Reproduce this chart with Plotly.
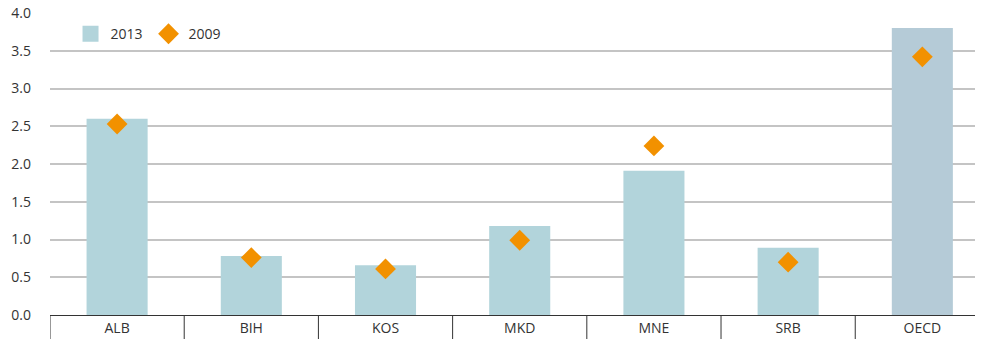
"""Bar + marker chart: 2013 vs 2009"""

import plotly.graph_objects as go

categories = ["ALB", "BIH", "KOS", "MKD", "MNE", "SRB", "OECD"]
values_2013 = [2.60, 0.78, 0.66, 1.18, 1.91, 0.89, 3.80]
values_2009 = [2.53, 0.76, 0.61, 0.99, 2.24, 0.70, 3.42]
y_ticks = [0.0, 0.5, 1.0, 1.5, 2.0, 2.5, 3.0, 3.5, 4.0]

BAR = "#b2d4db"
BAR_OECD = "#b5cbd7"
ORANGE = "#f29100"
bar_colors = [BAR] * (len(categories) - 1) + [BAR_OECD]

fig = go.Figure()
fig.add_trace(go.Bar(
    x=categories,
    y=values_2013,
    name="2013",
    marker=dict(color=bar_colors, line=dict(width=0)),
    width=0.455,
    showlegend=False,
))
# legend-only entry so the swatch is a big square like the reference
fig.add_trace(go.Scatter(
    x=[None],
    y=[None],
    mode="markers",
    name="2013",
    marker=dict(symbol="square", size=16, color=BAR),
))
fig.add_trace(go.Scatter(
    x=categories,
    y=values_2009,
    mode="markers",
    name="2009",
    marker=dict(symbol="diamond", size=16, color=ORANGE, line=dict(width=0)),
))

# vertical dividers between categories below the axis
for i in range(len(categories)):
    fig.add_shape(
        type="line", xref="x", yref="paper",
        x0=i - 0.5, x1=i - 0.5, y0=0, y1=-0.085,
        line=dict(color="#333333", width=1),
    )

# the page body has an 8px margin, so the figure is sized to fit inside it
fig.update_layout(
    width=975,
    height=331,
    margin=dict(l=42, r=0, t=5, b=24),
    paper_bgcolor="white",
    plot_bgcolor="white",
    font=dict(family="Open Sans, Noto Sans, sans-serif", size=14, color="#333333"),
    showlegend=True,
    legend=dict(
        orientation="h", x=0.022, y=0.93, xanchor="left", yanchor="middle",
        bgcolor="rgba(0,0,0,0)", font=dict(size=14), itemsizing="trace",
        entrywidth=33, entrywidthmode="pixels",
    ),
    bargap=0.5,
)
fig.update_xaxes(
    type="category",
    range=[-0.5, 6.452],
    showgrid=False,
    showline=True,
    linecolor="#333333",
    linewidth=1,
    ticks="",
    tickfont=dict(size=14, color="#333333"),
)
fig.update_yaxes(
    range=[0, 4.0],
    tickvals=y_ticks,
    tickformat=".1f",
    showgrid=True,
    gridcolor="#c4c4c4",
    gridwidth=1.5,
    zeroline=False,
    showline=False,
    automargin=False,
    ticks="",
    ticklabeloverflow="allow",
    ticklabelstandoff=18,
    tickfont=dict(size=14, color="#333333"),
)

fig.write_html("out.html")
